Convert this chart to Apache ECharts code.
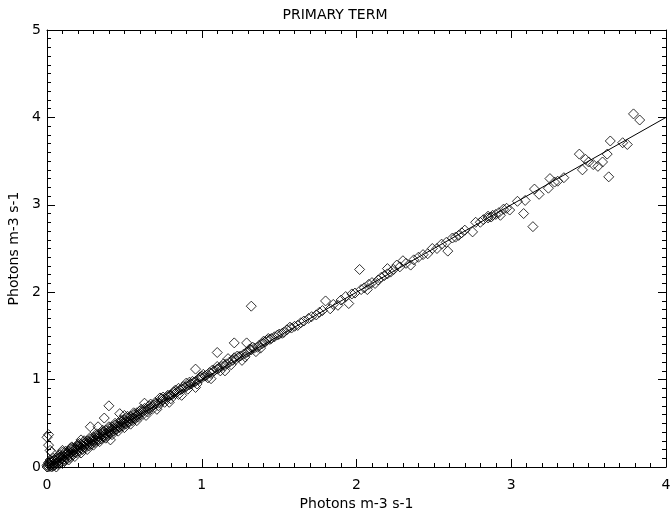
<!DOCTYPE html>
<html>
<head>
<meta charset="utf-8">
<script src="https://cdn.jsdelivr.net/npm/echarts@6/dist/echarts.min.js"></script>
<style>
  html, body { margin: 0; padding: 0; background: #fff; }
  #main { width: 670px; height: 518px; }
</style>
</head>
<body>
<div id="main"></div>
<script>
// dense band close to the origin
var lowPoints = [
    [0.00, 0.00], [0.00, 0.02], [0.01, 0.00], [0.01, 0.05], [0.02, 0.01], [0.02, 0.03],
    [0.03, 0.02], [0.03, 0.06], [0.04, 0.03], [0.04, 0.01], [0.05, 0.05], [0.05, 0.08],
    [0.06, 0.04], [0.06, 0.07], [0.07, 0.06], [0.07, 0.10], [0.08, 0.07], [0.09, 0.09],
    [0.09, 0.12], [0.10, 0.10], [0.11, 0.12], [0.11, 0.09], [0.12, 0.14], [0.13, 0.12],
    [0.13, 0.15], [0.14, 0.14], [0.15, 0.16], [0.15, 0.13], [0.16, 0.17], [0.17, 0.18],
    [0.18, 0.17], [0.18, 0.20], [0.19, 0.19], [0.20, 0.21], [0.21, 0.20], [0.21, 0.23],
    [0.22, 0.22], [0.23, 0.24], [0.24, 0.23], [0.24, 0.26], [0.25, 0.25], [0.26, 0.27],
    [0.27, 0.26], [0.27, 0.29], [0.28, 0.28], [0.29, 0.30], [0.30, 0.29], [0.30, 0.32],
    [0.31, 0.31], [0.32, 0.33], [0.33, 0.32], [0.33, 0.35], [0.34, 0.34], [0.35, 0.36],
    [0.36, 0.35], [0.36, 0.38], [0.37, 0.37], [0.38, 0.39], [0.39, 0.38], [0.40, 0.41],
    [0.41, 0.40], [0.42, 0.43], [0.43, 0.44], [0.44, 0.43], [0.45, 0.46], [0.46, 0.47],
    [0.47, 0.46], [0.48, 0.49], [0.49, 0.50], [0.50, 0.50], [0.51, 0.52], [0.52, 0.53],
    [0.53, 0.52], [0.54, 0.55], [0.55, 0.56], [0.56, 0.56], [0.57, 0.58], [0.58, 0.59],
    [0.59, 0.60], [0.60, 0.61]
];

// second, slightly wider layer of the band below x = 1.5
var bandPoints = [
    [0.01, 0.03], [0.02, 0.06], [0.03, 0.00], [0.04, 0.07], [0.05, 0.02], [0.06, 0.10],
    [0.07, 0.03], [0.08, 0.11], [0.09, 0.05], [0.10, 0.13], [0.11, 0.07], [0.12, 0.16],
    [0.13, 0.09], [0.14, 0.18], [0.15, 0.11], [0.16, 0.20], [0.17, 0.14], [0.18, 0.22],
    [0.19, 0.16], [0.20, 0.24], [0.21, 0.18], [0.22, 0.26], [0.23, 0.20], [0.24, 0.28],
    [0.25, 0.22], [0.26, 0.30], [0.27, 0.24], [0.28, 0.32], [0.29, 0.26], [0.30, 0.34],
    [0.31, 0.28], [0.32, 0.36], [0.33, 0.30], [0.34, 0.38], [0.35, 0.32], [0.36, 0.40],
    [0.37, 0.34], [0.38, 0.42], [0.39, 0.36], [0.40, 0.44], [0.41, 0.38], [0.42, 0.46],
    [0.43, 0.41], [0.44, 0.48], [0.45, 0.43], [0.46, 0.50], [0.47, 0.45], [0.48, 0.52],
    [0.49, 0.47], [0.50, 0.54], [0.51, 0.49], [0.52, 0.56], [0.53, 0.51], [0.54, 0.58],
    [0.55, 0.53], [0.56, 0.60], [0.57, 0.55], [0.58, 0.62], [0.59, 0.57], [0.60, 0.64],
    [0.62, 0.60], [0.63, 0.67], [0.65, 0.63], [0.66, 0.70], [0.68, 0.66], [0.70, 0.74],
    [0.72, 0.70], [0.74, 0.78], [0.76, 0.74], [0.78, 0.82], [0.80, 0.78], [0.82, 0.86],
    [0.85, 0.83], [0.88, 0.92], [0.91, 0.89], [0.94, 0.98], [0.97, 0.95], [1.00, 1.04],
    [1.04, 1.02], [1.07, 1.11], [1.12, 1.10], [1.14, 1.18], [1.19, 1.17], [1.23, 1.27],
    [1.28, 1.26], [1.33, 1.37], [1.38, 1.36], [1.43, 1.47]
];

// outer edge of the band, makes it as thick as in the picture
var edgePoints = [
    [0.02, 0.08], [0.04, 0.10], [0.06, 0.00], [0.08, 0.14], [0.10, 0.04], [0.12, 0.18],
    [0.14, 0.08], [0.16, 0.22], [0.18, 0.12], [0.20, 0.26], [0.22, 0.16], [0.24, 0.30],
    [0.26, 0.20], [0.28, 0.34], [0.30, 0.25], [0.32, 0.38], [0.34, 0.29], [0.36, 0.42],
    [0.38, 0.33], [0.40, 0.46], [0.42, 0.37], [0.44, 0.50], [0.46, 0.41], [0.48, 0.54],
    [0.50, 0.45], [0.52, 0.58], [0.54, 0.49], [0.56, 0.62], [0.58, 0.53], [0.61, 0.66],
    [0.64, 0.59], [0.67, 0.72], [0.71, 0.66], [0.75, 0.80], [0.79, 0.74], [0.83, 0.88],
    [0.87, 0.82], [0.92, 0.97], [0.96, 0.91], [1.01, 1.06], [1.06, 1.01], [1.10, 1.15],
    [1.15, 1.10], [1.21, 1.25], [1.26, 1.22], [1.31, 1.35], [1.35, 1.32], [1.40, 1.44]
];

var midPoints = [
    [0.62, 0.63], [0.63, 0.65], [0.65, 0.66], [0.66, 0.67], [0.68, 0.69], [0.69, 0.71],
    [0.70, 0.72], [0.72, 0.73], [0.73, 0.79], [0.74, 0.75], [0.75, 0.77], [0.77, 0.78],
    [0.78, 0.80], [0.79, 0.82], [0.80, 0.82], [0.81, 0.83], [0.83, 0.84], [0.84, 0.86],
    [0.85, 0.90], [0.86, 0.88], [0.87, 0.89], [0.89, 0.91], [0.90, 0.92], [0.90, 0.96],
    [0.92, 0.94], [0.93, 0.95], [0.95, 0.97], [0.96, 0.98], [0.98, 1.00], [0.99, 1.03],
    [1.00, 1.02], [1.02, 1.04], [1.03, 1.05], [1.05, 1.08], [1.06, 1.07], [1.08, 1.10],
    [1.10, 1.12], [1.11, 1.13], [1.13, 1.15], [1.15, 1.16], [1.16, 1.18], [1.18, 1.20],
    [1.20, 1.22], [1.22, 1.23], [1.24, 1.26], [1.25, 1.27], [1.27, 1.29], [1.29, 1.31],
    [1.30, 1.32], [1.32, 1.34], [1.34, 1.36], [1.36, 1.37], [1.37, 1.39], [1.39, 1.41],
    [1.41, 1.43], [1.42, 1.45], [1.44, 1.46], [1.45, 1.47], [1.47, 1.49], [1.49, 1.51],
    [1.50, 1.52], [1.52, 1.53], [1.53, 1.54], [1.55, 1.57], [1.57, 1.60], [1.58, 1.59],
    [1.60, 1.61], [1.62, 1.62], [1.64, 1.65], [1.66, 1.67], [1.69, 1.70], [1.71, 1.72],
    [1.74, 1.74], [1.76, 1.77], [1.78, 1.79], [1.80, 1.90], [1.83, 1.81], [1.85, 1.86],
    [1.88, 1.85], [1.90, 1.91], [1.93, 1.95], [1.95, 1.87], [1.97, 1.98], [1.99, 1.99],
    [2.03, 2.03], [2.05, 2.05], [2.07, 2.03], [2.08, 2.09], [2.10, 2.11], [2.12, 2.10],
    [2.14, 2.14], [2.16, 2.17], [2.18, 2.19], [2.20, 2.27], [2.20, 2.21], [2.22, 2.23],
    [2.24, 2.26], [2.26, 2.31], [2.28, 2.29], [2.30, 2.36], [2.32, 2.33], [2.35, 2.31],
    [2.37, 2.37], [2.40, 2.40], [2.43, 2.43], [2.46, 2.44], [2.49, 2.50], [2.52, 2.50],
    [2.55, 2.55], [2.58, 2.57], [2.59, 2.47], [2.62, 2.62], [2.64, 2.63], [2.66, 2.65],
    [2.68, 2.68], [2.70, 2.71], [2.75, 2.69], [2.77, 2.80], [2.80, 2.80], [2.82, 2.83],
    [2.85, 2.85], [2.85, 2.87], [2.87, 2.86], [2.88, 2.88], [2.90, 2.89], [2.92, 2.91],
    [2.93, 2.88], [2.95, 2.95], [2.97, 2.96], [2.99, 2.94]
];

var highPoints = [
    [3.04, 3.04], [3.09, 3.05], [3.08, 2.90], [3.15, 3.18], [3.18, 3.12], [3.24, 3.19],
    [3.25, 3.30], [3.28, 3.26], [3.30, 3.27], [3.34, 3.31], [3.44, 3.58], [3.46, 3.40],
    [3.48, 3.52], [3.50, 3.49], [3.53, 3.46], [3.56, 3.44], [3.59, 3.49], [3.62, 3.58],
    [3.64, 3.73], [3.72, 3.71], [3.75, 3.69], [3.79, 4.04], [3.83, 3.97]
];

// points that stray from the 1:1 line
var outlierPoints = [
    [0.00, 0.34], [0.01, 0.37], [0.01, 0.25], [0.03, 0.17], [0.02, 0.19], [0.10, 0.17],
    [0.10, 0.19], [0.15, 0.21], [0.16, 0.23], [0.21, 0.27], [0.22, 0.31], [0.28, 0.46],
    [0.33, 0.46], [0.37, 0.56], [0.40, 0.70], [0.41, 0.31], [0.47, 0.61], [0.50, 0.59],
    [0.63, 0.73], [0.96, 1.12], [1.10, 1.31], [1.17, 1.24], [1.21, 1.42], [1.29, 1.42],
    [1.32, 1.84], [2.02, 2.26], [3.14, 2.75], [3.63, 3.32]
];

var fitLine = [[0, 0], [4, 4]];

var xTicks = [0, 1, 2, 3, 4];
var yTicks = [0, 1, 2, 3, 4, 5];

var chartDom = document.getElementById('main');
var myChart = echarts.init(chartDom);
var option;

var font = 'DejaVu Sans';

function axisBase(extra) {
    var a = {
        type: 'value',
        interval: 1,
        axisLine: { show: true, onZero: false, lineStyle: { color: '#000', width: 1 } },
        axisTick: { show: true, inside: true, length: 8, lineStyle: { color: '#000' } },
        minorTick: { show: true, splitNumber: 10, length: 4, lineStyle: { color: '#000' } },
        splitLine: { show: false },
        minorSplitLine: { show: false }
    };
    return Object.assign(a, extra);
}

option = {
    backgroundColor: '#fff',
    animation: false,
    title: {
        text: 'PRIMARY TERM',
        left: 'center',
        top: 3,
        textStyle: { fontFamily: font, fontSize: 14, fontWeight: 'normal', color: '#000' }
    },
    grid: { left: 47, right: 4, top: 30, bottom: 51, outerBoundsMode: 'none', containLabel: false },
    xAxis: [
        axisBase({
            min: xTicks[0], max: xTicks[xTicks.length - 1],
            position: 'bottom',
            name: 'Photons m-3 s-1',
            nameLocation: 'middle',
            nameGap: 30,
            nameTextStyle: { fontFamily: font, fontSize: 14, color: '#000' },
            axisLabel: { margin: 11, fontFamily: font, fontSize: 14, color: '#000' }
        }),
        axisBase({
            min: xTicks[0], max: xTicks[xTicks.length - 1],
            position: 'top',
            axisLabel: { show: false }
        })
    ],
    yAxis: [
        axisBase({
            min: yTicks[0], max: yTicks[yTicks.length - 1],
            position: 'left',
            name: 'Photons m-3 s-1',
            nameLocation: 'middle',
            nameGap: 25,
            nameTextStyle: { fontFamily: font, fontSize: 14, color: '#000' },
            axisLabel: { margin: 6, fontFamily: font, fontSize: 14, color: '#000' }
        }),
        axisBase({
            min: yTicks[0], max: yTicks[yTicks.length - 1],
            position: 'right',
            axisLabel: { show: false }
        })
    ],
    series: [
        {
            name: 'points',
            type: 'scatter',
            symbol: 'diamond',
            symbolSize: 10,
            data: lowPoints.concat(bandPoints, edgePoints, midPoints, highPoints, outlierPoints),
            itemStyle: { color: 'rgba(0,0,0,0)', borderColor: '#000', borderWidth: 1 }
        },
        {
            name: 'fit',
            type: 'line',
            data: fitLine,
            symbol: 'none',
            lineStyle: { color: '#000', width: 1 },
            z: 1
        }
    ]
};

option && myChart.setOption(option);
</script>
</body>
</html>
